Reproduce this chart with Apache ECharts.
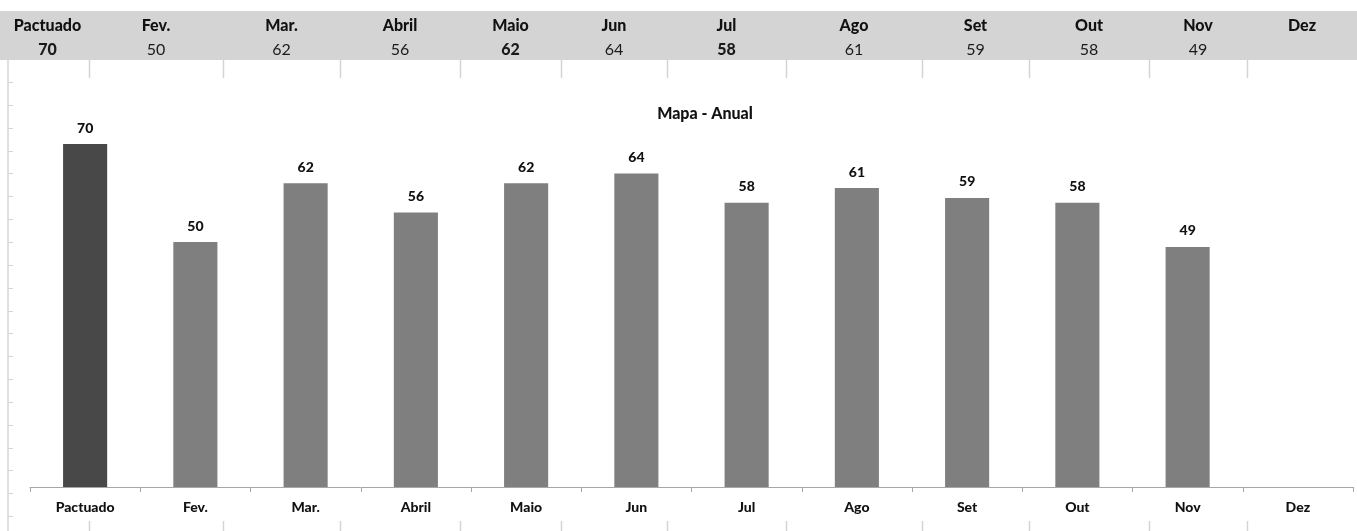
<!DOCTYPE html>
<html>
<head>
<meta charset="utf-8">
<script src="https://cdn.jsdelivr.net/npm/echarts@6/dist/echarts.min.js"></script>
<style>
html,body{margin:0;padding:0;background:#fff;}
#chart{width:1357px;height:531px;}
</style>
</head>
<body>
<div id="chart"></div>
<script>
// ---- data ----
const categories = ['Pactuado','Fev.','Mar.','Abril','Maio','Jun','Jul','Ago','Set','Out','Nov','Dez'];
const values = [70, 50, 62, 56, 62, 64, 58, 61, 59, 58, 49, null];
const titleText = 'Mapa - Anual';

// ---- layout / style (not data) ----
const headerBoldValueIdx = [0, 4, 6];
const headerEdges = [6, 89, 223, 340, 460, 561, 667, 786, 922, 1029, 1149, 1247, 1357];
const FONT = 'Lato, "Open Sans", sans-serif';

const chart = echarts.init(document.getElementById('chart'), null, {renderer: 'canvas'});

const graphics = [];
// header gray band
graphics.push({type:'rect', shape:{x:0, y:11, width:1357, height:49}, style:{fill:'#d4d4d4'}, z:1});
// header cells text
for (let i = 0; i < categories.length; i++) {
  const cx = (headerEdges[i] + headerEdges[i+1]) / 2;
  graphics.push({type:'text', x:cx, y:26, style:{text:categories[i], font:'900 16px ' + FONT, fill:'#111', align:'center', verticalAlign:'middle'}, z:2});
  const v = values[i];
  if (v !== null && v !== undefined) {
    const bold = headerBoldValueIdx.indexOf(i) >= 0;
    graphics.push({type:'text', x:cx, y:50, style:{text:String(v), font:(bold ? '900 ' : '') + '16px ' + FONT, fill:'#1a1a1a', align:'center', verticalAlign:'middle'}, z:2});
  }
}
// spreadsheet gridlines peeking around the chart object
for (let i = 1; i < headerEdges.length - 1; i++) {
  const x = headerEdges[i] + 0.5;
  graphics.push({type:'line', shape:{x1:x, y1:60, x2:x, y2:78}, style:{stroke:'#d4d4d4', lineWidth:1.5}, z:1});
  graphics.push({type:'line', shape:{x1:x, y1:521, x2:x, y2:531}, style:{stroke:'#d4d4d4', lineWidth:1.5}, z:1});
}
graphics.push({type:'line', shape:{x1:8, y1:60, x2:8, y2:531}, style:{stroke:'#d4d4d4', lineWidth:1.5}, z:1});
for (let k = 0; k < 20; k++) {
  const y = Math.round(82 + 22.85 * k) + 0.5;
  graphics.push({type:'line', shape:{x1:8, y1:y, x2:13, y2:y}, style:{stroke:'#d4d4d4', lineWidth:1}, z:1});
}

const option = {
  backgroundColor: '#ffffff',
  animation: false,
  title: {
    text: titleText,
    left: 700, top: 101,
    textAlign: 'center',
    textStyle: {fontFamily: FONT, fontWeight: 900, fontSize: 16, color: '#111'}
  },
  grid: {left: 30, right: 4, top: 95, bottom: 44, containLabel: false},
  xAxis: {
    type: 'category',
    data: categories,
    boundaryGap: true,
    axisLine: {show: true, lineStyle: {color: '#a6a6a6', width: 1}},
    axisTick: {show: true, length: 5, alignWithLabel: false, lineStyle: {color: '#a6a6a6'}},
    axisLabel: {fontFamily: FONT, fontWeight: 900, fontSize: 14, color: '#111', margin: 13, interval: 0}
  },
  yAxis: {
    type: 'value', min: 0, max: 80,
    show: false,
    splitLine: {show: false}
  },
  series: [{
    type: 'bar',
    data: values.map((v, i) => ({value: v, itemStyle: {color: i === 0 ? '#484848' : '#7f7f7f'}})),
    barWidth: '40%',
    label: {
      show: true, position: 'top', distance: 9,
      fontFamily: FONT, fontWeight: 900, fontSize: 14, color: '#111'
    }
  }],
  graphic: graphics
};
chart.setOption(option);
</script>
</body>
</html>
